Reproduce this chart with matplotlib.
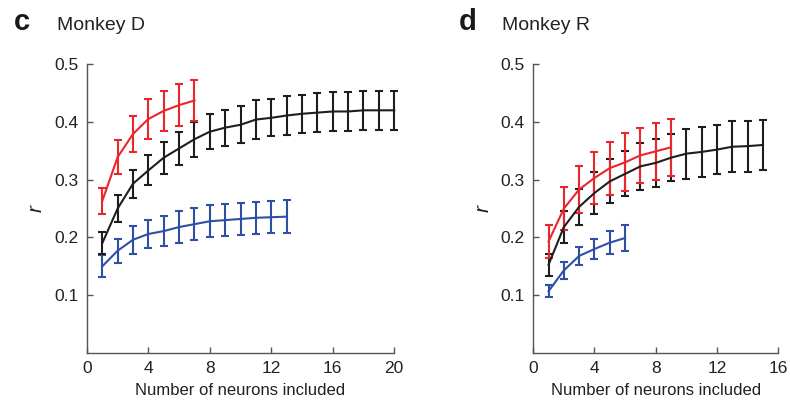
import numpy as np
import matplotlib.pyplot as plt

plt.rcParams['font.family'] = ['Liberation Sans', 'DejaVu Sans']

# Monkey D (panel c)
d_red_x = np.arange(1, 8)
d_red = [0.263, 0.339, 0.379, 0.405, 0.419, 0.429, 0.437]
d_red_err = [0.022, 0.029, 0.031, 0.034, 0.035, 0.036, 0.036]

d_black_x = np.arange(1, 21)
d_black = [0.19, 0.25, 0.293, 0.316, 0.338, 0.354, 0.37, 0.383, 0.39, 0.395,
           0.404, 0.407, 0.411, 0.414, 0.416, 0.418, 0.418, 0.42, 0.42, 0.42]
d_black_err = [0.019, 0.023, 0.024, 0.026, 0.028, 0.029, 0.03, 0.03, 0.031, 0.032,
               0.033, 0.032, 0.033, 0.033, 0.034, 0.033, 0.034, 0.034, 0.034, 0.034]

d_blue_x = np.arange(1, 14)
d_blue = [0.15, 0.177, 0.196, 0.206, 0.211, 0.218, 0.223, 0.228, 0.23, 0.232,
          0.234, 0.235, 0.236]
d_blue_err = [0.019, 0.021, 0.024, 0.025, 0.026, 0.027, 0.028, 0.028, 0.028, 0.028,
              0.028, 0.028, 0.028]

# Monkey R (panel d)
r_red_x = np.arange(1, 10)
r_red = [0.193, 0.25, 0.283, 0.303, 0.32, 0.33, 0.342, 0.349, 0.356]
r_red_err = [0.028, 0.037, 0.04, 0.045, 0.046, 0.05, 0.048, 0.049, 0.049]

r_black_x = np.arange(1, 16)
r_black = [0.153, 0.218, 0.253, 0.277, 0.297, 0.31, 0.323, 0.329, 0.338, 0.345,
           0.348, 0.352, 0.357, 0.358, 0.36]
r_black_err = [0.019, 0.027, 0.031, 0.036, 0.038, 0.039, 0.041, 0.042, 0.041, 0.043,
               0.043, 0.043, 0.044, 0.044, 0.044]

r_blue_x = np.arange(1, 7)
r_blue = [0.107, 0.143, 0.168, 0.18, 0.191, 0.199]
r_blue_err = [0.01, 0.015, 0.016, 0.018, 0.02, 0.022]

red = '#e8262b'
black = '#1e1e1e'
blue = '#2d50a6'

fig = plt.figure(figsize=(7.9, 4.03), dpi=100)
ax1 = fig.add_axes([0.110, 0.124, 0.389, 0.717])
ax2 = fig.add_axes([0.675, 0.124, 0.310, 0.717])


def draw(ax, series, xmax):
    for x, y, e, c in series:
        ax.errorbar(x, y, yerr=e, color=c, lw=1.5, elinewidth=1.5,
                    capsize=2.6, capthick=1.5, clip_on=False)
    ax.set_xlim(0, xmax)
    ax.set_ylim(0, 0.5)
    ax.set_xticks(np.arange(0, xmax + 1, 4))
    ax.set_yticks([0.1, 0.2, 0.3, 0.4, 0.5])
    ax.set_yticklabels(['0.1', '0.2', '0.3', '0.4', '0.5'])
    ax.spines['right'].set_visible(False)
    ax.spines['top'].set_visible(False)
    for s in ['left', 'bottom']:
        ax.spines[s].set_color('#555555')
        ax.spines[s].set_linewidth(1.0)
    ax.tick_params(direction='in', length=4, width=1.0, color='#555555',
                   labelsize=12.5, labelcolor='#222222')
    ax.tick_params(axis='x', pad=6)
    ax.tick_params(axis='y', pad=6)
    ax.set_xlabel('Number of neurons included', fontsize=12, color='#222222', labelpad=5)
    ax.set_ylabel('r', fontsize=15, style='italic', rotation=90, labelpad=6,
                  color='#222222')


draw(ax1, [(d_blue_x, d_blue, d_blue_err, blue),
           (d_black_x, d_black, d_black_err, black),
           (d_red_x, d_red, d_red_err, red)], 20)
draw(ax2, [(r_blue_x, r_blue, r_blue_err, blue),
           (r_black_x, r_black, r_black_err, black),
           (r_red_x, r_red, r_red_err, red)], 16)

fig.text(14 / 790, 1 - 30 / 403, 'c', fontsize=21, fontweight='bold', color='#1a1a1a')
fig.text(57 / 790, 1 - 30 / 403, 'Monkey D', fontsize=14, color='#222222')
fig.text(459 / 790, 1 - 30 / 403, 'd', fontsize=21, fontweight='bold', color='#1a1a1a')
fig.text(502 / 790, 1 - 30 / 403, 'Monkey R', fontsize=14, color='#222222')

fig.savefig('out.png', dpi=100)
